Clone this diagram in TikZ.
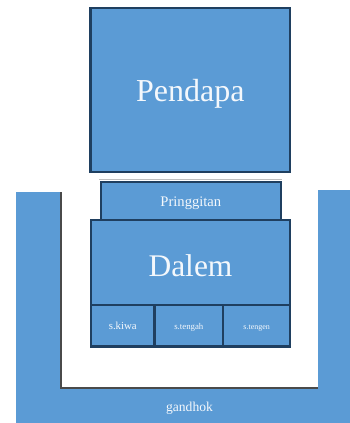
\documentclass[tikz,border=0pt]{standalone}
\usepackage{fontspec}
\setmainfont{Liberation Serif}
\definecolor{fillblue}{HTML}{5B9BD5}
\definecolor{edgeblue}{HTML}{1F3F60}
\definecolor{shadowgrey}{HTML}{4A4A4A}
\definecolor{softtext}{HTML}{F4F8FC}
\newcommand{\lowered}[2]{\raisebox{-#1pt}[0pt][0pt]{#2}}
\tikzset{
  room/.style={draw=edgeblue,line width=2.2pt,fill=fillblue,text=softtext,inner sep=0pt,anchor=north west,font=\fontsize{#1}{#1}\selectfont},
  wing/.style={fill=fillblue},
  wingedge/.style={draw=shadowgrey,line width=1.2pt},
}
\begin{document}
\begin{tikzpicture}[x=1pt,y=-1pt]
\useasboundingbox (0,0) rectangle (350,423);
% gandhok wing
\fill[wing] (16,192) -- (61,192) -- (61,388) -- (318,388) -- (318,190) -- (350,190) -- (350,423) -- (16,423) -- cycle;
\draw[wingedge] (61,192) -- (61,388) -- (318,388);
\node[text=softtext,inner sep=0pt,font=\fontsize{13.6}{13.6}\selectfont] (gandhok) at (189.5,407) {\lowered{4.7}{gandhok}};
% faint line above Pringgitan
\draw[black!25,line width=0.7pt] (99,179) -- (282,179);
% rooms
\node[room=32,minimum width=199.5pt,minimum height=163.5pt] (pendapa) at (89.4,7.2) {\lowered{11}{Pendapa}};
\node[room=14.6,minimum width=180.5pt,minimum height=38pt] (pringgitan) at (99.5,181) {\lowered{5.7}{Pringgitan}};
\node[room=31.5,minimum width=199pt,minimum height=84.5pt] (dalem) at (89.9,219) {\lowered{13.8}{Dalem}};
\node[room=10.8,minimum width=63.5pt,minimum height=41.8pt] (kiwa) at (89.9,303.5) {\lowered{4.3}{s.kiwa}};
\node[room=8.8,minimum width=68.7pt,minimum height=41.8pt] (tengah) at (153.4,303.5) {\lowered{4.3}{s.tengah}};
\node[room=8,minimum width=67pt,minimum height=41.8pt] (tengen) at (222.1,303.5) {\lowered{4.3}{s.tengen}};
\end{tikzpicture}
\end{document}
